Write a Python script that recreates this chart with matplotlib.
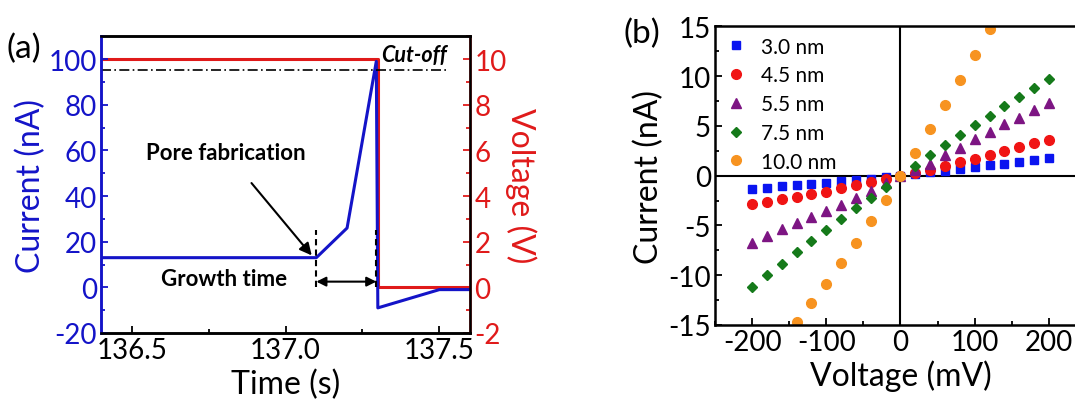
import matplotlib
matplotlib.use('Agg')
from matplotlib import pyplot as plt
from matplotlib.ticker import MultipleLocator

plt.rcParams['font.family'] = ['Lato', 'DejaVu Sans']
plt.rcParams['axes.unicode_minus'] = False

# (a) current trace and applied voltage during breakdown
time_i = [136.4, 137.1, 137.2, 137.295, 137.3, 137.5, 137.6]
current_i = [13, 13, 26, 99, -9, -1, -1]
time_v = [136.4, 137.3, 137.3, 137.6]
voltage_v = [10, 10, 0, 0]
cutoff_level = 95.2
growth_start = 137.1
growth_end = 137.295

# (b) I-V curves for different pore sizes
v_mv = [-200, -180, -160, -140, -120, -100, -80, -60, -40, -20, 0,
        20, 40, 60, 80, 100, 120, 140, 160, 180, 200]
i_30 = [-1.3, -1.2, -1.05, -0.95, -0.8, -0.7, -0.55, -0.45, -0.3, -0.15, 0,
        0.2, 0.35, 0.5, 0.7, 0.85, 1.05, 1.2, 1.4, 1.6, 1.8]
i_45 = [-2.8, -2.6, -2.3, -2.1, -1.8, -1.6, -1.25, -0.97, -0.65, -0.3, 0,
        0.25, 0.6, 1.0, 1.35, 1.7, 2.1, 2.45, 2.85, 3.25, 3.6]
i_55 = [-6.75, -6.1, -5.4, -4.8, -4.15, -3.55, -2.9, -2.2, -1.5, -0.7, 0,
        0.6, 1.15, 2.1, 2.8, 3.7, 4.4, 5.15, 5.8, 6.6, 7.3]
i_75 = [-11.2, -10.0, -8.85, -7.7, -6.6, -5.5, -4.4, -3.3, -2.2, -1.1, 0,
        1.0, 2.1, 3.05, 4.05, 5.05, 5.95, 7.0, 7.85, 8.8, 9.75]
v_100 = [-140, -120, -100, -80, -60, -40, -20, 0, 20, 40, 60, 80, 100, 120]
i_100 = [-14.7, -12.8, -10.85, -8.8, -6.75, -4.55, -2.4, 0,
         2.3, 4.65, 7.1, 9.6, 12.15, 14.75]

blue = '#1414c8'
red = '#e01a1a'

fig = plt.figure(figsize=(10.75, 4.02), dpi=100)

# ---- panel (a)
ax1 = fig.add_axes([0.0940, 0.1692, 0.3433, 0.7380])
ax2 = ax1.twinx()
ax1.set_zorder(ax2.get_zorder() + 1)
ax1.patch.set_visible(False)

ax2.plot(time_v, voltage_v, color=red, lw=2.2)
ax1.plot(time_i, current_i, color=blue, lw=2.2)
ax1.axhline(cutoff_level, xmax=(137.525 - 136.4) / 1.2, color='k', lw=1.2,
            linestyle=(0, (6, 2, 1, 2)))

ax1.set_xlim(136.4, 137.6)
ax1.set_ylim(-20, 110)
ax2.set_ylim(-2, 11)
ax1.xaxis.set_minor_locator(MultipleLocator(0.25))
ax1.set_xticks([136.5, 137.0, 137.5])
ax1.set_xticklabels(['136.5', '137.0', '137.5'])
ax1.yaxis.set_major_locator(MultipleLocator(20))
ax1.yaxis.set_minor_locator(MultipleLocator(10))
ax2.yaxis.set_major_locator(MultipleLocator(2))
ax2.yaxis.set_minor_locator(MultipleLocator(1))

for a in (ax1, ax2):
    a.tick_params(which='both', direction='in', width=1.3, labelsize=20, pad=3)
    a.tick_params(which='major', length=5)
    a.tick_params(which='minor', length=3)
ax1.tick_params(axis='y', which='both', colors=blue)
ax1.tick_params(axis='x', which='both', colors='k')
ax2.tick_params(axis='y', which='both', colors=red)
for s in list(ax1.spines.values()) + list(ax2.spines.values()):
    s.set_linewidth(1.8)
ax2.spines['left'].set_color(blue)
ax2.spines['right'].set_color(red)
ax1.spines['left'].set_color(blue)

ax1.set_xlabel('Time (s)', fontsize=23, labelpad=4)
ax1.set_ylabel('Current (nA)', fontsize=23, color=blue, labelpad=1.5)
ax2.set_ylabel('Voltage (V)', fontsize=23, color=red, rotation=270, labelpad=22)

ax1.text(137.525, 102, 'Cut-off', fontsize=15.5, fontweight='bold',
         fontstyle='italic', ha='right', va='center')
ax1.annotate('Pore fabrication', xy=(137.085, 14), xytext=(136.807, 59),
             fontsize=16, fontweight='bold', ha='center', va='center',
             arrowprops=dict(arrowstyle='-|>', color='k', lw=1.5,
                             mutation_scale=18, shrinkA=16, shrinkB=0))
ax1.text(136.80, 3.9, 'Growth time', fontsize=16, fontweight='bold',
         ha='center', va='center')
ax1.vlines([growth_start, growth_end], 0, 25, colors='k', lw=1.5,
           linestyles=(0, (3, 2)))
ax1.annotate('', xy=(growth_end, 2.5), xytext=(growth_start, 2.5),
             arrowprops=dict(arrowstyle='<|-|>', color='k', lw=1.5,
                             mutation_scale=14, shrinkA=0, shrinkB=0))
fig.text(0.006, 0.855, '(a)', fontsize=24)

# ---- panel (b)
ax3 = fig.add_axes([0.6651, 0.1891, 0.3451, 0.7430])
ax3.axhline(0, color='k', lw=1.5, zorder=1)
ax3.axvline(0, color='k', lw=1.5, zorder=1)
ax3.plot(v_mv, i_30, 's', color='#0a14f0', ms=6, label='3.0 nm')
ax3.plot(v_mv, i_45, 'o', color='#f01414', ms=7, label='4.5 nm')
ax3.plot(v_mv, i_55, '^', color='#7d1583', ms=7.5, label='5.5 nm')
ax3.plot(v_mv, i_75, 'D', color='#157a1a', ms=5.5, label='7.5 nm')
ax3.plot(v_100, i_100, 'o', color='#f79320', ms=7, label='10.0 nm')

ax3.set_xlim(-250, 250)
ax3.set_ylim(-15, 15)
ax3.xaxis.set_major_locator(MultipleLocator(100))
ax3.xaxis.set_minor_locator(MultipleLocator(50))
ax3.yaxis.set_major_locator(MultipleLocator(5))
ax3.yaxis.set_minor_locator(MultipleLocator(2.5))
ax3.tick_params(which='both', direction='in', width=1.3, labelsize=20, pad=3,
                right=False, top=False)
ax3.tick_params(which='major', length=5)
ax3.tick_params(which='minor', length=3)
for s in ax3.spines.values():
    s.set_linewidth(1.8)
ax3.set_xlabel('Voltage (mV)', fontsize=23, labelpad=3)
ax3.set_ylabel('Current (nA)', fontsize=23, labelpad=3)
ax3.legend(loc='upper left', frameon=False, fontsize=15, handletextpad=0.7,
           handlelength=1.0, labelspacing=0.42, borderaxespad=0.2,
           borderpad=0.3)
fig.text(0.580, 0.893, '(b)', fontsize=24)

plt.savefig('out.png', dpi=100)
